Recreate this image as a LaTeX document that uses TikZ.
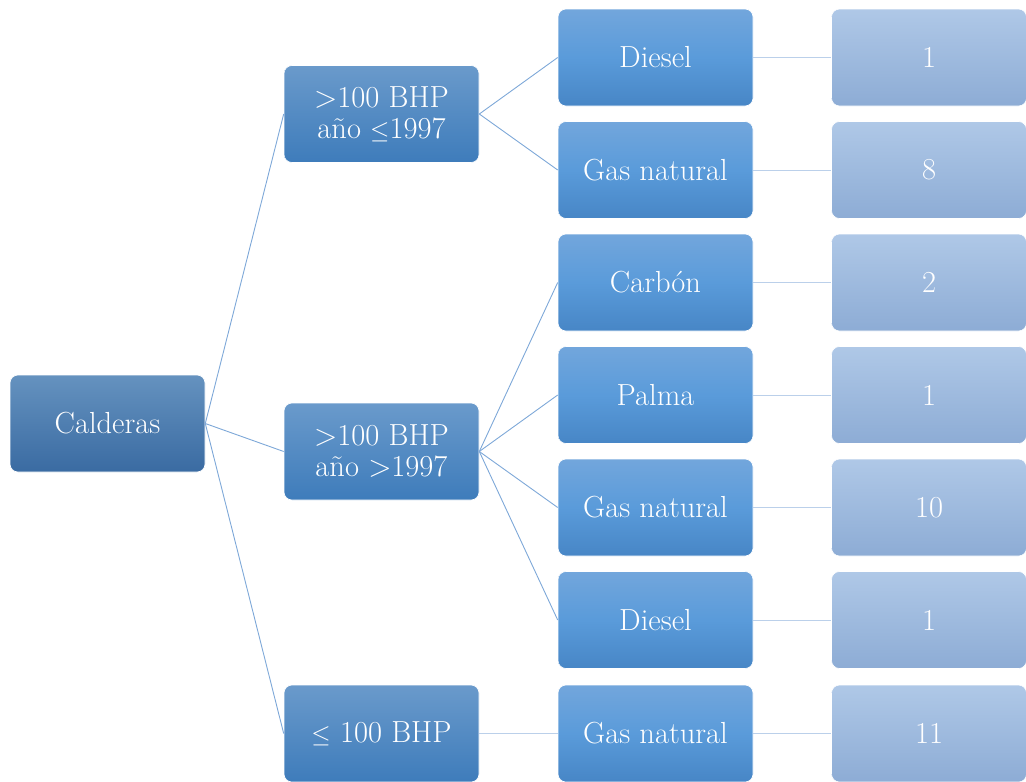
\documentclass[tikz,border=0pt]{standalone}
\usepackage{fontspec}
\begin{document}
\begin{tikzpicture}[x=1pt,y=-1pt,
  box/.style={rounded corners=8pt, minimum width=195pt, minimum height=97pt, inner sep=0pt,
    text=white, align=center, font=\fontsize{30.5}{31}\selectfont},
  rootbox/.style={box, top color=rootTop, bottom color=rootBot, draw=white, line width=0.6pt},
  lvone/.style={box, top color=oneTop, bottom color=oneBot, draw=white, line width=0.6pt},
  lvtwo/.style={box, top color=twoTop, bottom color=twoBot, middle color=twoMid, draw=white, line width=0.6pt},
  lvthree/.style={box, top color=thrTop, bottom color=thrBot, draw=white, line width=0.6pt},
  linkA/.style={draw=linkA, line width=0.9pt},
  linkB/.style={draw=linkB, line width=0.9pt}]
\definecolor{rootTop}{HTML}{6592BF}
\definecolor{rootBot}{HTML}{3A6BA2}
\definecolor{oneTop}{HTML}{6A9ACB}
\definecolor{oneBot}{HTML}{3E7CBB}
\definecolor{twoTop}{HTML}{72A6DC}
\definecolor{twoMid}{HTML}{5A9BDA}
\definecolor{twoBot}{HTML}{4786C6}
\definecolor{thrTop}{HTML}{AFC8E7}
\definecolor{thrBot}{HTML}{8DACD5}
\definecolor{linkA}{HTML}{7EA8D8}
\definecolor{linkB}{HTML}{BBD0EA}
\useasboundingbox (0,0) rectangle (1026,782);

\node[rootbox] (root) at (107.5,423.5) {Calderas};
\node[lvone] (a) at (381.5,114) {>100 BHP\\año $\leq$1997};
\node[lvone] (b) at (381.5,451.5) {>100 BHP\\año >1997};
\node[lvone] (c) at (381.5,733.5) {$\leq$ 100 BHP};

\node[lvtwo] (a1) at (655.5,57.5) {Diesel};
\node[lvtwo] (a2) at (655.5,170) {Gas natural};
\node[lvtwo] (b1) at (655.5,282.5) {Carbón};
\node[lvtwo] (b2) at (655.5,395) {Palma};
\node[lvtwo] (b3) at (655.5,507.5) {Gas natural};
\node[lvtwo] (b4) at (655.5,620) {Diesel};
\node[lvtwo] (c1) at (655.5,733.5) {Gas natural};

\node[lvthree] (a1n) at (929,57.5) {1};
\node[lvthree] (a2n) at (929,170) {8};
\node[lvthree] (b1n) at (929,282.5) {2};
\node[lvthree] (b2n) at (929,395) {1};
\node[lvthree] (b3n) at (929,507.5) {10};
\node[lvthree] (b4n) at (929,620) {1};
\node[lvthree] (c1n) at (929,733.5) {11};

\draw[linkA] (root.east) -- (a.west);
\draw[linkA] (root.east) -- (b.west);
\draw[linkA] (root.east) -- (c.west);
\draw[linkA] (a.east) -- (a1.west);
\draw[linkA] (a.east) -- (a2.west);
\draw[linkA] (b.east) -- (b1.west);
\draw[linkA] (b.east) -- (b2.west);
\draw[linkA] (b.east) -- (b3.west);
\draw[linkA] (b.east) -- (b4.west);
\draw[linkB] (c.east) -- (c1.west);
\draw[linkB] (a1.east) -- (a1n.west);
\draw[linkB] (a2.east) -- (a2n.west);
\draw[linkB] (b1.east) -- (b1n.west);
\draw[linkB] (b2.east) -- (b2n.west);
\draw[linkB] (b3.east) -- (b3n.west);
\draw[linkB] (b4.east) -- (b4n.west);
\draw[linkB] (c1.east) -- (c1n.west);
\end{tikzpicture}
\end{document}
